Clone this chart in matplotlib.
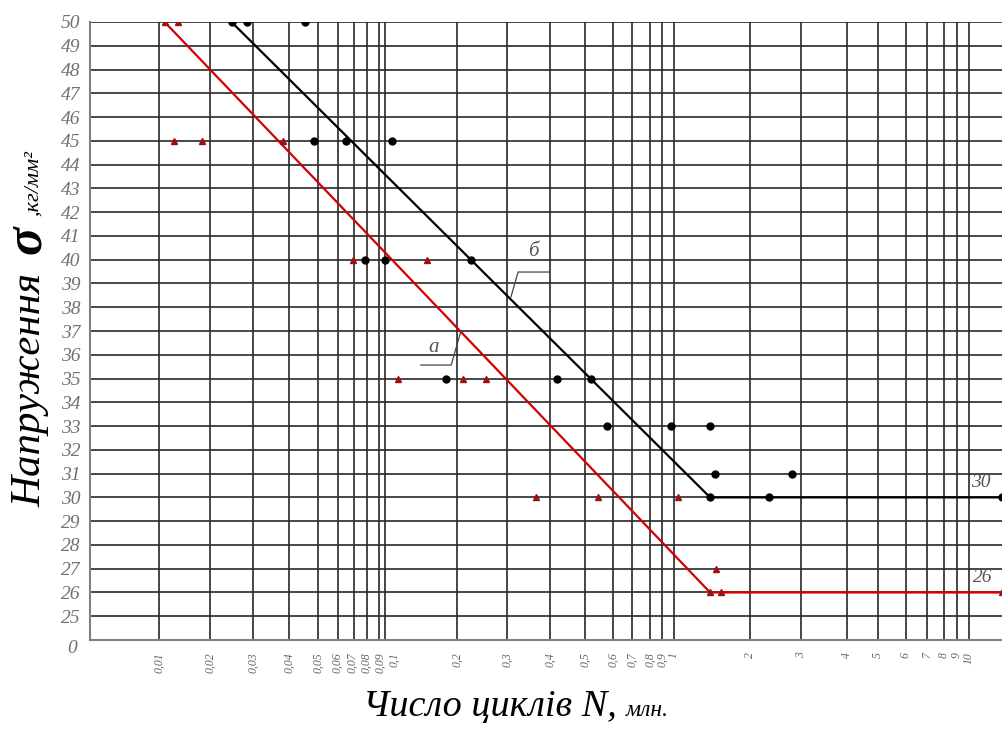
import numpy as np
import matplotlib.pyplot as plt
import matplotlib.transforms as mtransforms

# ---- дані (читаємо з графіка) ----
# крива б (чорна) та а (червона)
line_b_n = [0.0245, 1.39, 13]
line_b_s = [50, 30, 30]
line_a_n = [0.0108, 1.39, 13]
line_a_s = [50, 26, 26]

# експериментальні точки, чорні
pts_b_n = [0.0245, 0.0283, 0.0452, 0.0485, 0.0648, 0.107, 0.0784, 0.1, 0.224,
           0.18, 0.418, 0.52, 0.577, 0.974, 1.39, 1.45, 2.79, 1.39, 2.33, 13]
pts_b_s = [50, 50, 50, 45, 45, 45, 40, 40, 40, 35, 35, 35, 33, 33, 33, 31, 31,
           30, 30, 30]

# експериментальні точки, червоні
pts_a_n = [0.0108, 0.0129, 0.0123, 0.0179, 0.0381, 0.0693, 0.15, 0.113, 0.21,
           0.253, 0.364, 0.544, 1.037, 1.467, 1.39, 1.535, 13]
pts_a_s = [50, 50, 45, 45, 45, 40, 40, 35, 35, 35, 30, 30, 30, 27, 26, 26, 26]

x_ticks = [0.01, 0.02, 0.03, 0.04, 0.05, 0.06, 0.07, 0.08, 0.09,
           0.1, 0.2, 0.3, 0.4, 0.5, 0.6, 0.7, 0.8, 0.9,
           1, 2, 3, 4, 5, 6, 7, 8, 9, 10]
y_ticks = list(range(25, 51))

# ---- шкала N: на бланку вона намальована від руки, не чистий log ----
knot_n = [0.005] + x_ticks + [13]
knot_px = [90, 159, 210, 253, 289, 318, 338, 354, 367, 379,
           385, 457, 507, 550, 585, 613, 632, 650, 662,
           674, 750, 801, 847, 878, 906, 927, 944, 957, 969, 1002]
log_knots = np.log10(knot_n)


def fwd(x):
    x = np.clip(np.asarray(x, dtype=float), 1e-9, None)
    return np.interp(np.log10(x), log_knots, knot_px)


def inv(p):
    return 10 ** np.interp(np.asarray(p, dtype=float), knot_px, log_knots)


W, H = 1002, 729
fig = plt.figure(figsize=(W / 100, H / 100), dpi=100)
ax = fig.add_axes([90 / W, (H - 640) / H, 1 - 90 / W, (640 - 22) / H])

ax.set_xscale('function', functions=(fwd, inv))
ax.set_xlim(0.005, 13)
ax.set_ylim(24, 50)

serif = 'Liberation Serif'
grid_col = '#282828'

ax.set_xticks(x_ticks)
ax.set_xticklabels([f'{v:g}'.replace('.', ',') for v in x_ticks],
                   rotation=90, fontsize=8.5, fontstyle='italic',
                   family=serif, color='#666666')
ax.set_yticks(y_ticks)
ax.set_yticklabels([str(v) for v in y_ticks], fontsize=14,
                   fontstyle='italic', family=serif, color='#707070')
ax.minorticks_off()
ax.tick_params(axis='both', length=0)
ax.tick_params(axis='x', pad=9)
ax.tick_params(axis='y', pad=7)

# тісні підписи біля 0,1 на бланку розсунуті
shift = {0.06: -1, 0.07: -2, 0.08: -1, 0.09: 1, 0.1: 9}
for v, lab in zip(x_ticks, ax.get_xticklabels()):
    if v in shift:
        lab.set_transform(lab.get_transform() + mtransforms.ScaledTranslation(
            shift[v] / 100, 0, fig.dpi_scale_trans))

for v in x_ticks:
    ax.axvline(v, color=grid_col, lw=1.2, zorder=1)
for v in y_ticks:
    ax.axhline(v, color=grid_col, lw=1.2, zorder=1)

for s in ['top', 'right']:
    ax.spines[s].set_visible(False)
for s in ['left', 'bottom']:
    ax.spines[s].set_color('#808080')
    ax.spines[s].set_linewidth(1.5)

# "0" в куті
ax.annotate('0', xy=(0, 0), xycoords='axes fraction', xytext=(-13, -6),
            textcoords='offset points', ha='center', va='center',
            fontsize=14, fontstyle='italic', family=serif, color='#707070')

# лінії
ax.plot(line_b_n, line_b_s, color='black', lw=1.6, zorder=3)
ax.plot(line_a_n, line_a_s, color='#d40000', lw=1.6, zorder=3)

ax.plot(pts_b_n, pts_b_s, 'o', color='black', ms=5, zorder=4)
ax.plot(pts_a_n, pts_a_s, '^', color='#a01010', ms=4, zorder=4)

# підписи кривих з виносками
lab_kw = dict(fontsize=15, fontstyle='italic', family=serif, color='#555555')
lead = dict(arrowstyle='-', color='#444444', lw=0.9, shrinkA=0, shrinkB=0,
            connectionstyle='angle,angleA=0,angleB=74,rad=0')

ax.annotate('', xy=(0.308, 38.43), xytext=(28, 18), textcoords='offset points',
            arrowprops=lead)
ax.annotate('б', xy=(0.308, 38.43), xytext=(16, 33), textcoords='offset points',
            ha='center', va='center', **lab_kw)

ax.annotate('', xy=(0.2065, 37.0), xytext=(-29, -24.5),
            textcoords='offset points', arrowprops=lead)
ax.annotate('а', xy=(0.2065, 37.0), xytext=(-20, -12),
            textcoords='offset points', ha='center', va='center', **lab_kw)

# рівні границі витривалості
ax.annotate('30', xy=(13, 30), xytext=(-15, 11), textcoords='offset points',
            ha='center', va='center', fontsize=14, fontstyle='italic',
            family=serif, color='#555555')
ax.annotate('26', xy=(13, 26), xytext=(-14, 11), textcoords='offset points',
            ha='center', va='center', fontsize=14, fontstyle='italic',
            family=serif, color='#555555')


# підпис осі y (вертикальний, з частин)
def fy(px):
    return 1 - px / H


fig.text(40 / W, fy(507), 'Напруження', rotation=90, rotation_mode='anchor',
         ha='left', va='baseline', fontsize=31, fontstyle='italic', family=serif)
fig.text(40 / W, fy(254), 'σ', rotation=90, rotation_mode='anchor',
         ha='left', va='baseline', fontsize=38, fontweight='bold',
         fontstyle='italic', family=serif)
fig.text(38 / W, fy(216), ',кг/мм²', rotation=90, rotation_mode='anchor',
         ha='left', va='baseline', fontsize=16, fontstyle='italic', family=serif)

# підпис осі x
fig.text(363 / W, fy(716), 'Число циклів N,', ha='left', va='baseline',
         fontsize=27.5, fontstyle='italic', family=serif)
fig.text(626 / W, fy(716), 'млн.', ha='left', va='baseline',
         fontsize=17, fontstyle='italic', family=serif)

plt.savefig('out.png', dpi=100)
